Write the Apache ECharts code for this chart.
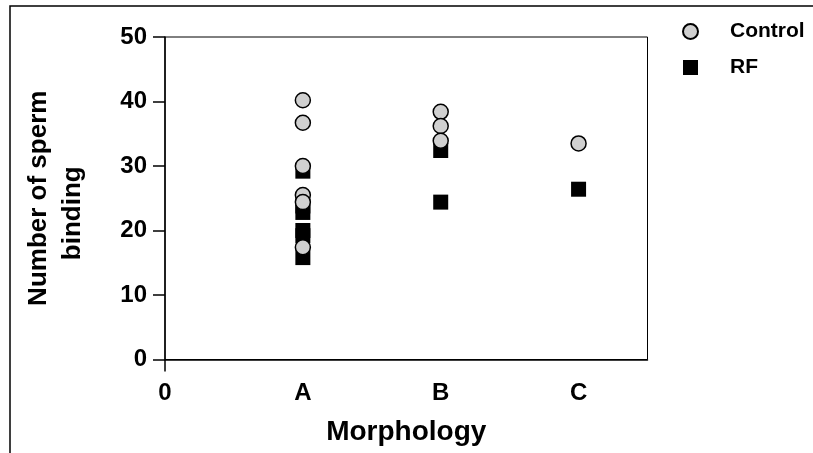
<!DOCTYPE html>
<html>
<head>
<meta charset="utf-8">
<script src="https://cdn.jsdelivr.net/npm/echarts@6/dist/echarts.min.js"></script>
<style>
  html, body { margin: 0; padding: 0; background: #ffffff; }
  #chart { width: 813px; height: 453px; }
</style>
</head>
<body>
<div id="chart"></div>
<script>
// Morphology groups on the x axis (0 = origin, then A, B, C)
const xTickLabels = ['0', 'A', 'B', 'C'];
const xTickValues = [0, 1, 2, 3];

// Number of sperm binding, per morphology group
const controlA = [40.2, 36.7, 30.0, 25.5, 24.4, 17.4];
const controlB = [38.4, 36.2, 33.9];
const controlC = [33.5];

const rfA = [29.2, 23.8, 22.8, 20.0, 19.2, 15.8];
const rfB = [32.4, 24.4];
const rfC = [26.4];

const yTicks = [0, 10, 20, 30, 40, 50];

function toPoints(groupIndex, values) {
  return values.map(v => [groupIndex, v]);
}

const controlData = [].concat(
  toPoints(1, controlA), toPoints(2, controlB), toPoints(3, controlC));
const rfData = [].concat(
  toPoints(1, rfA), toPoints(2, rfB), toPoints(3, rfC));

const FONT = "'Liberation Sans', Arial, Helvetica, sans-serif";
const titleFont = { fontFamily: FONT, fontWeight: 'bold', fontSize: 26, color: '#000', lineHeight: 34 };

const chart = echarts.init(document.getElementById('chart'), null, { renderer: 'canvas' });

chart.setOption({
  backgroundColor: '#ffffff',
  animation: false,
  graphic: [{
    type: 'rect',
    shape: { x: 10, y: 6, width: 900, height: 600 },
    style: { fill: 'none', stroke: '#000', lineWidth: 1.5 },
    silent: true
  }],
  grid: {
    left: 165, top: 37, right: 165.5, bottom: 93.5,
    show: true, borderColor: '#000', borderWidth: 1, backgroundColor: 'transparent'
  },
  legend: {
    data: ['Control', 'RF'],
    orient: 'vertical',
    left: 677, top: 16,
    itemWidth: 15, itemHeight: 15,
    itemGap: 15,
    textStyle: {
      fontFamily: FONT, fontWeight: 'bold', fontSize: 21, color: '#000',
      padding: [0, 0, 0, 27]
    }
  },
  xAxis: {
    type: 'value', min: 0, max: 3.5, interval: 1,
    name: 'Morphology', nameLocation: 'middle', nameGap: 59,
    nameTextStyle: { fontFamily: FONT, fontWeight: 'bold', fontSize: 28, color: '#000' },
    axisLine: { onZero: false, lineStyle: { color: '#000', width: 1.5 } },
    axisTick: { show: true, customValues: [0], length: 12, inside: false,
      lineStyle: { color: '#000', width: 1.5 } },
    axisLabel: {
      customValues: xTickValues,
      margin: 22,
      fontFamily: FONT, fontWeight: 'bold', fontSize: 24, color: '#000',
      formatter: v => {
        const i = xTickValues.indexOf(Math.round(v * 100) / 100);
        return i >= 0 ? xTickLabels[i] : '';
      }
    },
    splitLine: { show: false }
  },
  yAxis: {
    type: 'value', min: yTicks[0], max: yTicks[yTicks.length - 1], interval: 10,
    name: '{a|Number of sperm}\n{b|binding}', nameLocation: 'middle', nameGap: 75,
    nameTextStyle: Object.assign({}, titleFont, {
      align: 'center',
      rich: {
        a: Object.assign({}, titleFont),
        b: Object.assign({}, titleFont, { padding: [0, 30, 0, 0] })
      }
    }),
    axisLine: { show: true, onZero: false, lineStyle: { color: '#000', width: 1.5 } },
    axisTick: { show: true, length: 12, inside: false, lineStyle: { color: '#000', width: 1.5 } },
    axisLabel: { margin: 18, fontFamily: FONT, fontWeight: 'bold', fontSize: 24, color: '#000' },
    splitLine: { show: false }
  },
  series: [
    {
      name: 'RF', type: 'scatter', symbol: 'rect', symbolSize: 15, z: 2,
      itemStyle: { color: '#000', borderColor: '#000', borderWidth: 0, opacity: 1 },
      data: rfData
    },
    {
      name: 'Control', type: 'scatter', symbol: 'circle', symbolSize: 15, z: 3,
      itemStyle: { color: '#d0d0d0', borderColor: '#000', borderWidth: 1.5, opacity: 1 },
      data: controlData
    }
  ]
});
</script>
</body>
</html>
